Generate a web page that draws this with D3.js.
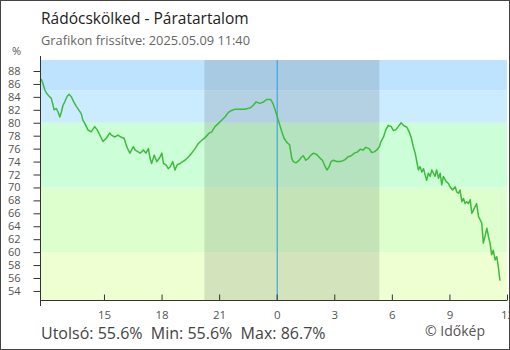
<!DOCTYPE html>
<html>
<head>
<meta charset="utf-8">
<script src="https://cdn.jsdelivr.net/npm/d3@7"></script>
<style>
  html, body { margin: 0; padding: 0; background: #fff; }
  svg { display: block; font-family: "Open Sans", sans-serif; }
</style>
</head>
<body>
<svg id="chart" width="510" height="350"></svg>
<script>
// ---- data ----
const titleText = "Rádócskölked - Páratartalom";
const subtitleText = "Grafikon frissítve: 2025.05.09 11:40";
const startDay = [2025, 4, 8];            // 2025-05-08
const domainStart = "11:40";
const domainEnd = "12:00";                // next day
const sunset = "20:14";
const sunrise = "05:21";
const yDomain = [52.6, 89.7];
const yTicks = [54,56,58,60,62,64,66,68,70,72,74,76,78,80,82,84,86,88];
const xTickHours = [15,18,21,0,3,6,9,12];
const bandLimits = [52.6, 60, 70, 80, 85, 89.7];
const bandColors = ["#eeffd2", "#ddffcd", "#ccffd7", "#cbebff", "#bde3fe"];
const lastValue = 55.6, minValue = 55.6, maxValue = 86.7;

const times = [
"11:40","11:44","11:49","11:55","12:00","12:10","12:15","12:21","12:24","12:31",
"12:36","12:42","12:47","12:52","12:57","13:05","13:11","13:18","13:26","13:34",
"13:41","13:49","13:54","14:00","14:10","14:20","14:31","14:39","14:47","14:57",
"15:07","15:18","15:23","15:34","15:44","15:52","16:03","16:08","16:13","16:21",
"16:32","16:37","16:47","16:53","17:03","17:11","17:19","17:24","17:29","17:37",
"17:45","17:53","18:01","18:06","18:14","18:21","18:27","18:35","18:42","18:49",
"18:58","19:06","19:13","19:24","19:34","19:45","19:55","20:06","20:16","20:29",
"20:37","20:47","20:58","21:08","21:18","21:29","21:39","21:50","22:05","22:21",
"22:37","22:47","22:55","23:08","23:18","23:29","23:41","23:48","23:55","00:02",
"00:08","00:16","00:23","00:31","00:40","00:44","00:47","00:52","01:00","01:08",
"01:18","01:23","01:31","01:39","01:47","01:55","02:05","02:16","02:23","02:29",
"02:37","02:44","02:50","02:57","03:08","03:18","03:25","03:34","03:42","03:53",
"04:03","04:13","04:21","04:31","04:38","04:49","04:57","05:05","05:13","05:21",
"05:26","05:34","05:41","05:49","05:58","06:05","06:12","06:20","06:29","06:36",
"06:47","06:54","07:00","07:07","07:13","07:18","07:23","07:28","07:34","07:39",
"07:44","07:49","07:54","08:00","08:05","08:10","08:15","08:20","08:26","08:31",
"08:36","08:41","08:50","08:57","09:02","09:10","09:18","09:23","09:28","09:33",
"09:39","09:44","09:49","09:54","09:59","10:05","10:10","10:15","10:20","10:25",
"10:31","10:36","10:41","10:46","10:51","10:57","11:02","11:07","11:12","11:17",
"11:23","11:28","11:33","11:38"
];
const humidity = [
86.3,86.7,86.1,85.1,84.6,84.0,83.8,82.7,82.0,82.2,
81.7,80.9,81.7,82.7,83.2,84.1,84.4,84.0,83.2,82.5,
82.0,81.4,80.4,79.9,78.9,78.6,79.4,78.9,78.1,77.1,
77.6,78.4,78.1,77.8,78.1,77.8,77.6,76.8,76.1,75.3,
76.3,75.8,75.5,75.3,75.8,75.3,76.0,74.5,73.7,75.0,
74.0,74.5,75.3,73.7,73.5,72.9,73.2,74.0,72.7,73.5,
73.7,74.0,74.2,74.7,75.3,76.0,76.8,77.3,77.7,78.4,
78.6,79.4,79.9,80.4,80.9,81.6,81.9,82.1,82.1,82.1,
82.3,82.7,83.2,83.0,83.2,83.6,83.6,83.0,82.0,80.9,
79.9,78.6,77.6,77.0,76.6,75.5,74.5,74.0,73.8,74.1,
74.7,74.9,74.2,74.5,75.0,75.3,75.1,74.5,74.2,73.5,
72.7,73.2,74.0,74.2,74.0,74.0,74.1,74.3,74.7,74.9,
75.3,75.5,75.9,75.8,76.2,76.0,75.4,75.5,75.8,76.3,
77.1,77.8,78.9,79.6,79.4,78.8,78.9,79.4,80.0,79.6,
79.3,78.6,77.8,76.3,75.3,74.0,72.7,73.2,72.4,72.9,
71.9,71.1,72.2,71.7,72.7,72.2,71.7,72.7,71.4,72.2,
70.4,71.7,70.9,70.6,70.1,69.6,70.1,69.3,69.1,69.6,
67.8,68.3,67.5,67.8,67.5,68.1,66.0,66.5,67.0,67.5,
65.5,65.0,64.5,61.4,62.4,63.7,62.4,61.4,59.6,60.3,
58.8,59.3,57.7,55.6
];

// ---- helpers ----
function toDates(list) {
  let day = 0, prev = -1;
  return list.map(s => {
    const [h, m] = s.split(":").map(Number);
    const mins = h * 60 + m;
    if (prev >= 0 && mins < prev) day += 1;
    prev = mins;
    return new Date(startDay[0], startDay[1], startDay[2] + day, h, m);
  });
}
const dates = toDates(times);
const data = dates.map((d, i) => ({ t: d, v: humidity[i] }));
const [dStart] = toDates([domainStart]);
const dEnd = toDates(["23:59", domainEnd])[1];
const nightDates = toDates([domainStart, sunset, sunrise]);
const midnight = new Date(startDay[0], startDay[1], startDay[2] + 1, 0, 0);

// ---- layout ----
const L = 40, R = 507, T = 60, B = 300;
const svg = d3.select("#chart");
const x = d3.scaleTime().domain([dStart, dEnd]).range([L, R]);
const y = d3.scaleLinear().domain(yDomain).range([B, T]);

// bands
const bands = bandColors.map((c, i) => ({ lo: bandLimits[i], hi: bandLimits[i + 1], c }));
svg.append("g").selectAll("rect").data(bands).join("rect")
  .attr("x", L).attr("width", R - L)
  .attr("y", d => y(d.hi)).attr("height", d => y(d.lo) - y(d.hi))
  .attr("fill", d => d.c);

// night shading
svg.append("rect")
  .attr("x", x(nightDates[1])).attr("width", x(nightDates[2]) - x(nightDates[1]))
  .attr("y", T).attr("height", B - T)
  .attr("fill", "rgba(0,0,0,0.11)");

// midnight line
svg.append("line")
  .attr("x1", x(midnight) + 0.5).attr("x2", x(midnight) + 0.5)
  .attr("y1", T).attr("y2", B)
  .attr("stroke", "#2a9ae6").attr("stroke-width", 1);

// humidity line
svg.append("path").datum(data)
  .attr("fill", "none")
  .attr("stroke", "#3dbb3d")
  .attr("stroke-width", 1.5)
  .attr("stroke-linejoin", "round")
  .attr("d", d3.line().x(d => x(d.t)).y(d => y(d.v)));

// y axis
const yAxis = svg.append("g").attr("transform", `translate(${L + 0.5},0)`)
  .call(d3.axisLeft(y).tickValues(yTicks).tickSize(7).tickPadding(13));
yAxis.select(".domain").remove();
yAxis.append("line").attr("x1", 0).attr("x2", 0).attr("y1", T - 4).attr("y2", B + 6)
  .attr("stroke", "#333");
yAxis.selectAll(".tick line").attr("stroke", "#333");
yAxis.selectAll(".tick text").attr("fill", "#555").attr("font-size", "11px")
  .attr("font-family", "Open Sans, sans-serif");

// x axis
const xTickDates = xTickHours.map((h, i) => {
  const dayOff = (h >= 12 && i < 3) ? 0 : 1;
  return new Date(startDay[0], startDay[1], startDay[2] + dayOff, h, 0);
});
const xAxis = svg.append("g").attr("transform", `translate(0,${B + 0.5})`)
  .call(d3.axisBottom(x).tickValues(xTickDates).tickSize(-6).tickPadding(10)
    .tickFormat(d3.timeFormat("%-H")));
xAxis.select(".domain").remove();
xAxis.append("line").attr("x1", L).attr("x2", R).attr("stroke", "#333");
xAxis.selectAll(".tick line").attr("stroke", "#333");
xAxis.selectAll(".tick text").attr("fill", "#555").attr("font-size", "11.5px")
  .attr("font-family", "Open Sans, sans-serif");

// texts
svg.append("text").attr("x", 41).attr("y", 24).attr("font-size", "15.5px")
  .attr("fill", "#222").text(titleText);
svg.append("text").attr("x", 41).attr("y", 45).attr("font-size", "12.8px")
  .attr("fill", "#666").text(subtitleText);
svg.append("text").attr("x", 12).attr("y", 55).attr("font-size", "11px")
  .attr("fill", "#555").text("%");
svg.append("text").attr("x", 41).attr("y", 339).attr("font-size", "16px")
  .attr("fill", "#444")
  .attr("xml:space", "preserve")
  .text(`Utolsó: ${lastValue.toFixed(1)}%  Min: ${minValue.toFixed(1)}%  Max: ${maxValue.toFixed(1)}%`);
svg.append("text").attr("x", 425).attr("y", 336).attr("font-size", "14px")
  .attr("fill", "#555").text("© Időkép");

// outer frame
svg.append("rect").attr("x", 0.5).attr("y", 0.5).attr("width", 509).attr("height", 349)
  .attr("fill", "none").attr("stroke", "#444");
</script>
</body>
</html>
